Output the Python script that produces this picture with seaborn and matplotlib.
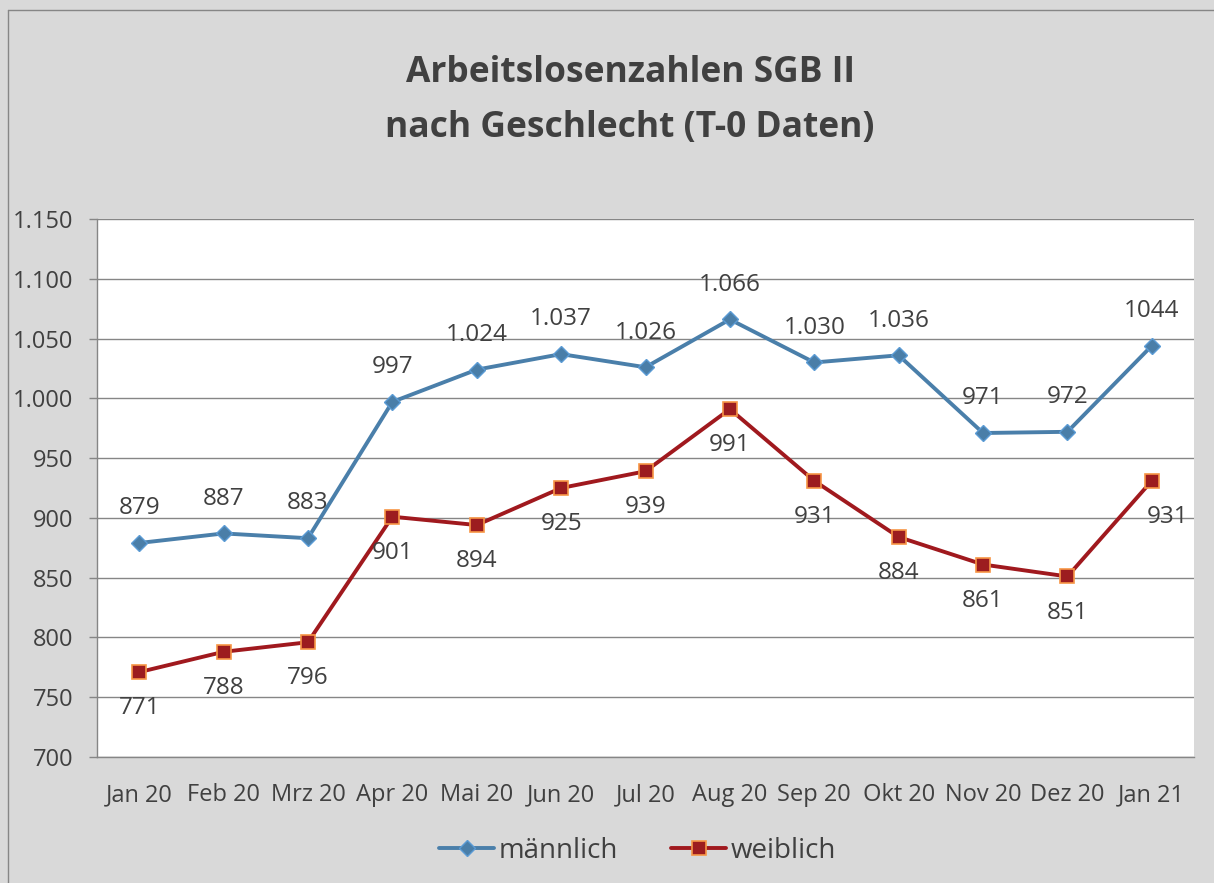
import matplotlib
matplotlib.use('Agg')
import matplotlib.pyplot as plt
from matplotlib.lines import Line2D
import seaborn as sns
import pandas as pd

# values
monate = ['Jan 20', 'Feb 20', 'Mrz 20', 'Apr 20', 'Mai 20', 'Jun 20', 'Jul 20',
          'Aug 20', 'Sep 20', 'Okt 20', 'Nov 20', 'Dez 20', 'Jan 21']
maennlich = [879, 887, 883, 997, 1024, 1037, 1026, 1066, 1030, 1036, 971, 972, 1044]
weiblich = [771, 788, 796, 901, 894, 925, 939, 991, 931, 884, 861, 851, 931]
labels_m = ['879', '887', '883', '997', '1.024', '1.037', '1.026', '1.066',
            '1.030', '1.036', '971', '972', '1044']
labels_w = [str(v) for v in weiblich]
y_ticks = [700, 750, 800, 850, 900, 950, 1000, 1050, 1100, 1150]
y_labels = ['700', '750', '800', '850', '900', '950', '1.000', '1.050', '1.100', '1.150']

sns.set_style('white')
plt.rcParams['font.family'] = ['Open Sans', 'DejaVu Sans']
txt = '#404040'
grey = '#868686'

df = pd.DataFrame({'Monat': monate, 'm': maennlich, 'w': weiblich})

fig = plt.figure(figsize=(12.14, 8.83), dpi=100, facecolor='#D9D9D9')
ax = fig.add_axes([97 / 1214, 1 - 757 / 883, (1194 - 97) / 1214, (757 - 219) / 883])
ax.set_facecolor('white')

sns.lineplot(data=df, x='Monat', y='m', ax=ax, color='#4A7FAA', lw=2.8,
             marker='D', markersize=8, markerfacecolor='#4A7EA8',
             markeredgecolor='#5B9BD5', markeredgewidth=1, label='männlich')
sns.lineplot(data=df, x='Monat', y='w', ax=ax, color='#A0191E', lw=2.8,
             marker='s', markersize=10, markerfacecolor='#9C1C1F',
             markeredgecolor='#F79646', markeredgewidth=1.2, label='weiblich')

for i, (v, s) in enumerate(zip(maennlich, labels_m)):
    ax.annotate(s, (i, v), xytext=(0, 25), textcoords='offset points',
                ha='center', va='center', fontsize=17.5, color=txt)
for i, (v, s) in enumerate(zip(weiblich, labels_w)):
    dx = 11 if i == len(weiblich) - 1 else 0
    ax.annotate(s, (i, v), xytext=(dx, -26), textcoords='offset points',
                ha='center', va='center', fontsize=17.5, color=txt)

ax.set_xlim(-0.5, len(monate) - 0.5)
ax.set_ylim(700, 1150)
ax.set_yticks(y_ticks)
ax.set_yticklabels(y_labels)
ax.set_xticks(range(len(monate)))
ax.set_xticklabels(monate)
ax.set_xticks([i - 0.5 for i in range(len(monate) + 1)], minor=True)
ax.tick_params(axis='x', which='major', length=0, pad=19, labelsize=17, labelcolor=txt)
ax.tick_params(axis='x', which='minor', length=6, width=1, color=grey, direction='out')
ax.tick_params(axis='y', length=6, width=1, color=grey, direction='out', left=True,
               pad=11, labelsize=17, labelcolor=txt)
ax.set_xlabel('')
ax.set_ylabel('')
ax.grid(axis='y', color=grey, lw=1)
ax.set_axisbelow(True)
for side in ['top', 'right']:
    ax.spines[side].set_visible(False)
for side in ['left', 'bottom']:
    ax.spines[side].set_color(grey)
    ax.spines[side].set_linewidth(1)

ax.get_legend().remove()
handles, lbls = ax.get_legend_handles_labels()
fig.legend(handles, lbls, loc='center', bbox_to_anchor=(0.525, 0.036), ncol=2,
           frameon=False, fontsize=20, labelcolor=txt, handlelength=2.0,
           handletextpad=0.15, columnspacing=1.9)

fig.text(0.519, 0.886, 'Arbeitslosenzahlen SGB II\nnach Geschlecht (T-0 Daten)',
         ha='center', va='center', fontsize=25.5, fontweight='bold', color=txt,
         linespacing=1.7)

# outer chart border
fig.add_artist(Line2D([8 / 1214, 8 / 1214], [0, 1 - 10 / 883], color=grey, lw=1))
fig.add_artist(Line2D([8 / 1214, 1], [1 - 10 / 883, 1 - 10 / 883], color=grey, lw=1))

fig.savefig('out.png', dpi=100, facecolor=fig.get_facecolor())
